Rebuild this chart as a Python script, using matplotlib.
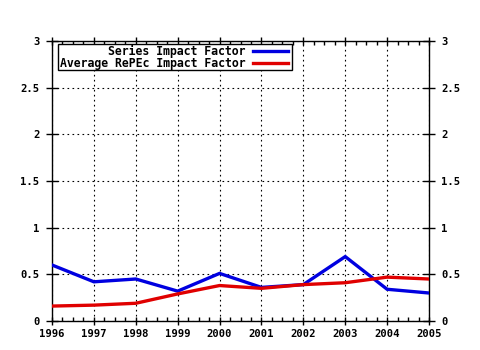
import matplotlib
matplotlib.use("Agg")
import matplotlib.pyplot as plt
from matplotlib.ticker import MultipleLocator
from matplotlib.patches import Rectangle
from matplotlib.lines import Line2D

years = [1996, 1997, 1998, 1999, 2000, 2001, 2002, 2003, 2004, 2005]
series_if = [0.60, 0.42, 0.45, 0.32, 0.51, 0.36, 0.39, 0.69, 0.34, 0.30]
avg_repec_if = [0.16, 0.17, 0.19, 0.29, 0.38, 0.35, 0.39, 0.41, 0.47, 0.45]
ytick_vals = [0, 0.5, 1, 1.5, 2, 2.5, 3]
ytick_labels = ["0", "0.5", "1", "1.5", "2", "2.5", "3"]
series_names = ["Series Impact Factor", "Average RePEc Impact Factor"]

BLUE = "#0000e0"
RED = "#e00000"
font = dict(family="DejaVu Sans Mono", weight="bold", size=7.6)
lfont = dict(family="DejaVu Sans Mono", weight="bold", size=8.3)

fig = plt.figure(figsize=(4.8, 3.5), dpi=100)
ax = fig.add_axes([52/480, 1-321/350, (429-52)/480, (321-41)/350])

ax.plot(years, series_if, color=BLUE, lw=2.4, solid_joinstyle="miter", zorder=3)
ax.plot(years, avg_repec_if, color=RED, lw=2.4, solid_joinstyle="miter", zorder=3)

ax.set_xlim(years[0], years[-1])
ax.set_ylim(0, 3)
ax.set_xticks(years)
ax.set_xticklabels([str(y) for y in years], **font)
ax.set_yticks(ytick_vals)
ax.set_yticklabels(ytick_labels, **font)
ax.xaxis.set_minor_locator(MultipleLocator(0.25))
ax.tick_params(axis="x", which="major", direction="inout", length=6, width=1,
               top=True, bottom=True, pad=3)
ax.tick_params(axis="x", which="minor", direction="in", length=3, width=1,
               top=True, bottom=True)
ax.tick_params(axis="y", which="major", direction="inout", length=8, width=1,
               left=True, right=True, labelleft=True, labelright=True, pad=5)
ax.grid(True, which="major", color="black", linestyle=(0, (1.5, 3)), lw=0.8)
for s in ax.spines.values():
    s.set_linewidth(1)
    s.set_color("black")

# manual legend
bx0, by0 = (58-52)/377, (321-70)/280
bw, bh = (292-58)/377, (70-44)/280
ax.add_patch(Rectangle((bx0, by0), bw, bh, transform=ax.transAxes,
                       facecolor="white", edgecolor="black", lw=1, zorder=5))
rows_y = [(321-51)/280, (321-63)/280]
for name, col, yy in zip(series_names, [BLUE, RED], rows_y):
    ax.text((246-52)/377, yy, name, transform=ax.transAxes, ha="right",
            va="center", zorder=6, clip_on=False, **lfont)
    ax.add_line(Line2D([(253-52)/377, (288-52)/377], [yy, yy],
                       transform=ax.transAxes, color=col, lw=2.4, zorder=6))

fig.savefig("out.png", dpi=100)
